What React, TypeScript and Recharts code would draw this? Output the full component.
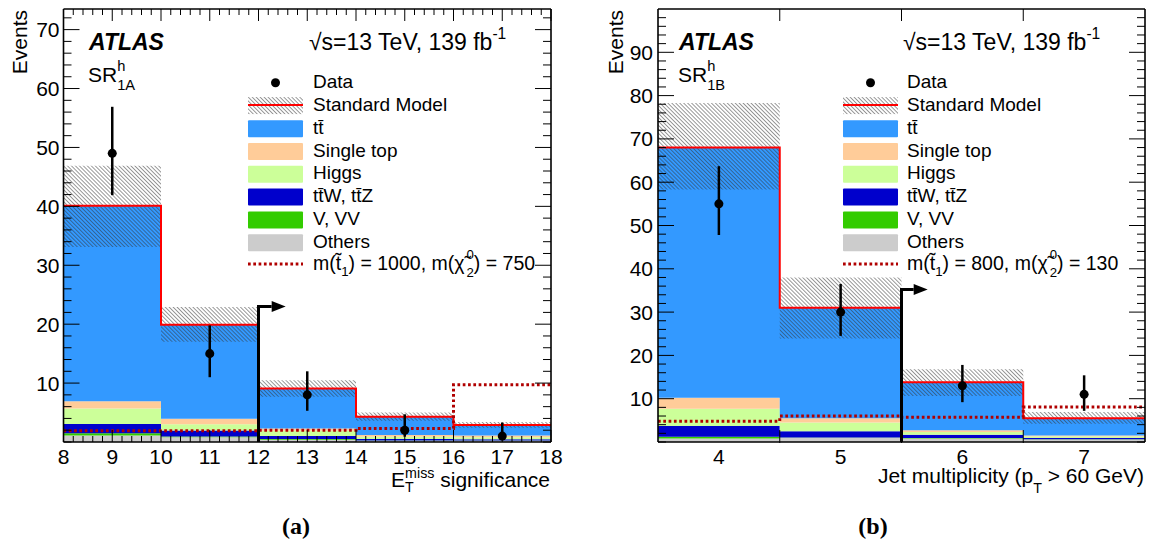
import React from "react";
import { ComposedChart, Area, Line, Scatter, ErrorBar, XAxis, YAxis } from "recharts";

const FONT = "'Liberation Sans', Arial, Helvetica, sans-serif";

// ---------- SR1A : E_T^miss significance ----------
const edgesA = [8, 10, 12, 14, 16, 18];
const centersA = [9, 11, 13, 15, 17];
const othersA = [1.1, 0.8, 0.4, 0.2, 0.2];
const vvA = [0.4, 0.15, 0.1, 0.05, 0.05];
const ttvA = [1.55, 1.0, 0.5, 0.25, 0.2];
const higgsA = [2.65, 1.05, 0.9, 0.4, 0.35];
const singleTopA = [1.2, 0.95, 0.4, 0.3, 0.3];
const ttbarA = [33.2, 15.95, 6.8, 3.1, 1.8];
const bandLowA = [33.1, 17.0, 7.7, 3.6, 2.4];
const bandHighA = [46.9, 22.9, 10.5, 5.0, 3.4];
const signalA = [1.9, 1.9, 2.0, 2.3, 9.7];
const dataA = [49, 15, 8, 2, 1];
const dataErrLowA = [7.1, 4.0, 2.7, 1.1, 0.7];
const dataErrHighA = [7.9, 4.8, 4.0, 2.7, 2.3];
const cutA = { x: 12, top: 23, len: 0.27 };
const yMajorA = [10, 20, 30, 40, 50, 60, 70];
const xMajorA = [8, 9, 10, 11, 12, 13, 14, 15, 16, 17, 18];

// ---------- SR1B : jet multiplicity ----------
const edgesB = [3.5, 4.5, 5.5, 6.5, 7.5];
const centersB = [4, 5, 6, 7];
const othersB = [0.8, 1.0, 0.8, 0.6];
const vvB = [0.4, 0.05, 0.1, 0.05];
const ttvB = [2.5, 1.45, 0.8, 0.3];
const higgsB = [4.0, 2.0, 0.6, 0.3];
const singleTopB = [2.5, 1.0, 0.4, 0.25];
const ttbarB = [57.8, 25.5, 11.1, 4.0];
const bandLowB = [58.3, 23.9, 10.6, 4.2];
const bandHighB = [78.3, 38.0, 16.8, 6.9];
const signalB = [4.8, 6.0, 5.7, 8.1];
const dataB = [55, 30, 13, 11];
const dataErrLowB = [7.2, 5.5, 3.8, 3.8];
const dataErrHighB = [8.7, 6.5, 4.8, 4.4];
const cutB = { x: 5.5, top: 35.2, len: 0.1 };
const yMajorB = [10, 20, 30, 40, 50, 60, 70, 80, 90];
const xLabelsB = [4, 5, 6, 7];
const xEdgeTicksB = [4.5, 5.5, 6.5];

const STACK = [
  { key: "others", color: "#cccccc" },
  { key: "vv", color: "#33cc00" },
  { key: "ttv", color: "#0000cc" },
  { key: "higgs", color: "#ccff99" },
  { key: "singleTop", color: "#ffcc99" },
  { key: "ttbar", color: "#3399ff" },
];

const near = (list: number[], v: number) => list.some((m) => Math.abs(m - v) < 1e-6);
const steps = (from: number, to: number, step: number) => {
  const out: number[] = [];
  for (let v = from; v <= to + 1e-9; v += step) out.push(Math.round(v * 1000) / 1000);
  return out;
};

function histRows(edges: number[], comp: Record<string, number[]>, lo: number[], hi: number[], sig: number[]) {
  return edges.map((x, i) => {
    const b = Math.min(i, edges.length - 2);
    const row: any = { x };
    let total = 0;
    STACK.forEach((s) => {
      row[s.key] = comp[s.key][b];
      total += comp[s.key][b];
    });
    row.sm = Math.round(total * 100) / 100;
    row.band = [lo[b], hi[b]];
    row.sig = sig[b];
    return row;
  });
}

const pointRows = (xs: number[], ys: number[], lo: number[], hi: number[]) =>
  xs.map((x, i) => ({ x, y: ys[i], err: [lo[i], hi[i]] }));

const arrowRows = (c: { x: number; top: number; len: number }) => [
  { x: c.x, y: 0 },
  { x: c.x, y: c.top },
  { x: c.x + c.len, y: c.top },
];

// ---------- tick renderers (ROOT style, ticks inside the frame) ----------
const leftTick = (majors: number[], gap: number) => (p: any) => {
  const v = p.payload.value;
  const major = near(majors, v);
  const ax = p.x + gap;
  return (
    <g>
      <line x1={ax} x2={ax + (major ? 16 : 8)} y1={p.y} y2={p.y} stroke="#000" strokeWidth={1} />
      {major && (
        <text x={p.x} y={p.y} textAnchor="end" dominantBaseline="central" fontSize={21} fontFamily={FONT} fill="#000">
          {v}
        </text>
      )}
    </g>
  );
};

const rightTick = (majors: number[]) => (p: any) => {
  const major = near(majors, p.payload.value);
  return <line x1={p.x} x2={p.x - (major ? 16 : 8)} y1={p.y} y2={p.y} stroke="#000" strokeWidth={1} />;
};

const bottomTick = (gap: number, len: (v: number) => number, label: (v: number) => boolean) => (p: any) => {
  const v = p.payload.value;
  const ay = p.y - gap;
  const l = len(v);
  return (
    <g>
      {l > 0 && <line x1={p.x} x2={p.x} y1={ay} y2={ay - l} stroke="#000" strokeWidth={1} />}
      {label(v) && (
        <text x={p.x} y={p.y} textAnchor="middle" dominantBaseline="central" fontSize={21} fontFamily={FONT} fill="#000">
          {v}
        </text>
      )}
    </g>
  );
};

const topTick = (len: (v: number) => number) => (p: any) => {
  const l = len(p.payload.value);
  return l > 0 ? <line x1={p.x} x2={p.x} y1={p.y} y2={p.y + l} stroke="#000" strokeWidth={1} /> : <g />;
};

const arrowDot = (p: any) =>
  p.index === 2 ? (
    <polygon key="head" points={`${p.cx},${p.cy - 5.5} ${p.cx + 14},${p.cy} ${p.cx},${p.cy + 5.5}`} fill="#000" />
  ) : (
    <g key={`a${p.index}`} />
  );

const isInt = (v: number) => Math.abs(v - Math.round(v)) < 1e-6;

const panelA = {
  axisWidth: 63.5,
  marginRight: 23,
  hatchId: "hatchA",
  rows: histRows(
    edgesA,
    { others: othersA, vv: vvA, ttv: ttvA, higgs: higgsA, singleTop: singleTopA, ttbar: ttbarA },
    bandLowA,
    bandHighA,
    signalA
  ),
  points: pointRows(centersA, dataA, dataErrLowA, dataErrHighA),
  arrow: arrowRows(cutA),
  xDomain: [8, 18],
  yDomain: [0, 73.5],
  xTicks: steps(8, 18, 0.2),
  topTicks: steps(8, 18, 0.2),
  yTicks: steps(0, 72, 2),
  yMajor: yMajorA,
  yGap: 4,
  bottomTick: bottomTick(14, (v) => (isInt(v) ? 12 : 6), (v) => near(xMajorA, v)),
  topTick: topTick((v) => (isInt(v) ? 12 : 6)),
};

const panelB = {
  axisWidth: 82,
  marginRight: 5,
  hatchId: "hatchB",
  rows: histRows(
    edgesB,
    { others: othersB, vv: vvB, ttv: ttvB, higgs: higgsB, singleTop: singleTopB, ttbar: ttbarB },
    bandLowB,
    bandHighB,
    signalB
  ),
  points: pointRows(centersB, dataB, dataErrLowB, dataErrHighB),
  arrow: arrowRows(cutB),
  xDomain: [3.5, 7.5],
  yDomain: [0, 100],
  xTicks: [...xLabelsB, ...xEdgeTicksB].sort((a, b) => a - b),
  topTicks: xEdgeTicksB,
  yTicks: steps(0, 98, 2),
  yMajor: yMajorB,
  yGap: 5,
  bottomTick: bottomTick(13, (v) => (near(xEdgeTicksB, v) ? 13 : 0), (v) => near(xLabelsB, v)),
  topTick: topTick((v) => (near(xEdgeTicksB, v) ? 12 : 0)),
};

const frame = { stroke: "#000", strokeWidth: 1.6 };

function HistPanel({ cfg }: { cfg: typeof panelA }) {
  return (
    <ComposedChart
      width={575}
      height={545}
      data={cfg.rows}
      margin={{ top: 8, right: cfg.marginRight, bottom: 63, left: 0 }}
    >
      <defs>
        <pattern id={cfg.hatchId} width="2.8" height="2.8" patternUnits="userSpaceOnUse" patternTransform="rotate(-45)">
          <line x1="0" y1="0" x2="0" y2="2.8" stroke="#333" strokeWidth="1" />
        </pattern>
      </defs>
      {STACK.map((s) => (
        <Area
          key={s.key}
          dataKey={s.key}
          stackId="sm"
          type="stepAfter"
          fill={s.color}
          fillOpacity={1}
          stroke="none"
          dot={false}
          activeDot={false}
          isAnimationActive={false}
        />
      ))}
      <Area
        dataKey="band"
        type="stepAfter"
        fill={`url(#${cfg.hatchId})`}
        fillOpacity={1}
        stroke="none"
        dot={false}
        activeDot={false}
        isAnimationActive={false}
      />
      <Line dataKey="sm" type="stepAfter" stroke="#ff0000" strokeWidth={2} dot={false} activeDot={false} isAnimationActive={false} />
      <Line
        dataKey="sig"
        type="stepAfter"
        stroke="#b00000"
        strokeWidth={3}
        strokeDasharray="2.7 2.6"
        dot={false}
        activeDot={false}
        isAnimationActive={false}
      />
      <Line data={cfg.arrow} dataKey="y" type="linear" stroke="#000" strokeWidth={3} dot={arrowDot} activeDot={false} isAnimationActive={false} />
      <Scatter data={cfg.points} dataKey="y" fill="#000" isAnimationActive={false}>
        <ErrorBar dataKey="err" direction="y" width={0} stroke="#000" strokeWidth={2.5} />
      </Scatter>
      <XAxis
        dataKey="x"
        type="number"
        domain={cfg.xDomain}
        allowDataOverflow
        ticks={cfg.xTicks}
        interval={0}
        height={40}
        tickSize={0}
        tickMargin={14}
        tickLine={false}
        axisLine={frame}
        tick={cfg.bottomTick}
      />
      <XAxis
        xAxisId="top"
        orientation="top"
        dataKey="x"
        type="number"
        domain={cfg.xDomain}
        allowDataOverflow
        ticks={cfg.topTicks}
        interval={0}
        height={1}
        tickSize={0}
        tickMargin={0}
        tickLine={false}
        axisLine={frame}
        tick={cfg.topTick}
      />
      <YAxis
        type="number"
        domain={cfg.yDomain}
        allowDataOverflow
        ticks={cfg.yTicks}
        interval={0}
        width={cfg.axisWidth}
        tickSize={0}
        tickMargin={cfg.yGap}
        tickLine={false}
        axisLine={frame}
        tick={leftTick(cfg.yMajor, cfg.yGap)}
      />
      <YAxis
        yAxisId="right"
        orientation="right"
        type="number"
        domain={cfg.yDomain}
        allowDataOverflow
        ticks={cfg.yTicks}
        interval={0}
        width={1}
        tickSize={0}
        tickMargin={0}
        tickLine={false}
        axisLine={frame}
        tick={rightTick(cfg.yMajor)}
      />
    </ComposedChart>
  );
}

// ---------- text helpers ----------
const Txt = ({ x, base, size = 21, anchor = "start", style, children }: any) => (
  <div
    style={{
      position: "absolute",
      left: x,
      top: base - 0.8465 * size,
      fontSize: size,
      lineHeight: 1,
      whiteSpace: "nowrap",
      transform: anchor === "end" ? "translateX(-100%)" : anchor === "middle" ? "translateX(-50%)" : undefined,
      ...style,
    }}
  >
    {children}
  </div>
);

const SupSub = ({ sup, sub, up = 0.45, down = 0.3, scale = 0.68, gap = 0 }: any) => (
  <span style={{ display: "inline-grid", fontSize: `${scale}em`, lineHeight: 1, verticalAlign: "baseline", marginLeft: gap }}>
    <span style={{ gridArea: "1 / 1", position: "relative", top: `${-up / scale}em` }}>{sup}</span>
    <span style={{ gridArea: "1 / 1", position: "relative", top: `${down / scale}em` }}>{sub}</span>
  </span>
);

const Sup = ({ children, up = 0.42 }: any) => (
  <span style={{ fontSize: "0.68em", position: "relative", top: `${-up / 0.68}em` }}>{children}</span>
);
const Sub = ({ children, down = 0.3 }: any) => (
  <span style={{ fontSize: "0.68em", position: "relative", top: `${down / 0.68}em` }}>{children}</span>
);

const Rotated = ({ x, y, size = 21, children }: any) => (
  <div
    style={{
      position: "absolute",
      left: x,
      top: y,
      fontSize: size,
      lineHeight: 1,
      whiteSpace: "nowrap",
      transformOrigin: "0 0",
      transform: "rotate(-90deg) translate(-100%, -50%)",
    }}
  >
    {children}
  </div>
);

const TT = "t\u0074\u0304";

const legendLabels = [
  "Data",
  "Standard Model",
  TT,
  "Single top",
  "Higgs",
  `${TT}W, ${TT}Z`,
  "V, VV",
  "Others",
];
const legendBaselines = [88.3, 111.1, 133.9, 156.7, 179.5, 202.3, 225.1, 247.9, 270.7];

function LegendBlock({ boxLeft, textLeft, hatchId, massLabel }: any) {
  const cx = boxLeft + 27.5;
  return (
    <>
      <svg width={1151} height={545} style={{ position: "absolute", left: 0, top: 0, pointerEvents: "none" }}>
        <defs>
          <pattern id={hatchId} width="2.8" height="2.8" patternUnits="userSpaceOnUse" patternTransform="rotate(-45)">
            <line x1="0" y1="0" x2="0" y2="2.8" stroke="#333" strokeWidth="1" />
          </pattern>
        </defs>
        <circle cx={cx} cy={legendBaselines[0] - 5.6} r={4.5} fill="#000" />
        <rect x={boxLeft} y={legendBaselines[1] - 14} width={55} height={17} fill={`url(#${hatchId})`} />
        <line x1={boxLeft} x2={boxLeft + 55} y1={legendBaselines[1] - 6} y2={legendBaselines[1] - 6} stroke="#ff0000" strokeWidth={2} />
        {["#3399ff", "#ffcc99", "#ccff99", "#0000cc", "#33cc00", "#cccccc"].map((c, i) => (
          <rect key={c} x={boxLeft} y={legendBaselines[i + 2] - 13.7} width={55} height={17} fill={c} rx={1} />
        ))}
        <line
          x1={boxLeft}
          x2={boxLeft + 55}
          y1={legendBaselines[8] - 6.7}
          y2={legendBaselines[8] - 6.7}
          stroke="#b00000"
          strokeWidth={3}
          strokeDasharray="2.7 2.6"
        />
      </svg>
      {legendLabels.map((t, i) => (
        <Txt key={t} x={textLeft} base={legendBaselines[i]} size={19}>
          {t}
        </Txt>
      ))}
      <Txt x={textLeft} base={legendBaselines[8]} size={19.5}>
        {massLabel}
      </Txt>
    </>
  );
}

const massLabel = (stop: number, chi: number) => (
  <>
    m(t{"\u0303"}
    <Sub down={0.3}>1</Sub>) = {stop}, m({"\u03C7\u0303"}
    <SupSub sup="0" sub="2" up={0.55} down={0.35} gap={2} />) = {chi}
  </>
);

const serifBold = { fontFamily: "'Liberation Serif', 'Times New Roman', serif", fontWeight: "bold" };
const atlasStyle = { fontWeight: "bold", fontStyle: "italic" };

export default function App() {
  return (
    <div
      style={{
        position: "relative",
        width: 1151,
        height: 545,
        background: "#fff",
        fontFamily: FONT,
        color: "#000",
        overflow: "hidden",
      }}
    >
      <style>{`body{margin:0}`}</style>
      <div style={{ position: "absolute", left: 0, top: 0 }}>
        <HistPanel cfg={panelA} />
      </div>
      <div style={{ position: "absolute", left: 576, top: 0 }}>
        <HistPanel cfg={panelB as any} />
      </div>

      {/* panel (a) texts */}
      <Rotated x={18.5} y={10}>Events</Rotated>
      <Txt x={89} base={50} size={23} style={atlasStyle}>
        ATLAS
      </Txt>
      <Txt x={309} base={50} size={23}>
        {"\u221As=13 TeV, 139 fb"}
        <Sup up={0.45}>-1</Sup>
      </Txt>
      <Txt x={88} base={81.7} size={21}>
        SR
        <SupSub sup="h" sub="1A" up={0.5} down={0.4} scale={0.7} />
      </Txt>
      <Txt x={550} base={486.5} size={21} anchor="end">
        E<SupSub sup="miss" sub="T" up={0.43} down={0.26} /> significance
      </Txt>
      <Txt x={296} base={534} size={24} anchor="middle" style={serifBold}>
        (a)
      </Txt>
      <LegendBlock boxLeft={248} textLeft={313} hatchId="legHatchA" massLabel={massLabel(1000, 750)} />

      {/* panel (b) texts */}
      <Rotated x={615} y={10}>Events</Rotated>
      <Txt x={679} base={50} size={23} style={atlasStyle}>
        ATLAS
      </Txt>
      <Txt x={903} base={50} size={23}>
        {"\u221As=13 TeV, 139 fb"}
        <Sup up={0.45}>-1</Sup>
      </Txt>
      <Txt x={678} base={81.7} size={21}>
        SR
        <SupSub sup="h" sub="1B" up={0.5} down={0.4} scale={0.7} />
      </Txt>
      <Txt x={1144} base={483} size={21} anchor="end">
        Jet multiplicity (p<Sub down={0.45}>T</Sub> &gt; 60 GeV)
      </Txt>
      <Txt x={873} base={534} size={24} anchor="middle" style={serifBold}>
        (b)
      </Txt>
      <LegendBlock boxLeft={843} textLeft={907} hatchId="legHatchB" massLabel={massLabel(800, 130)} />
    </div>
  );
}
